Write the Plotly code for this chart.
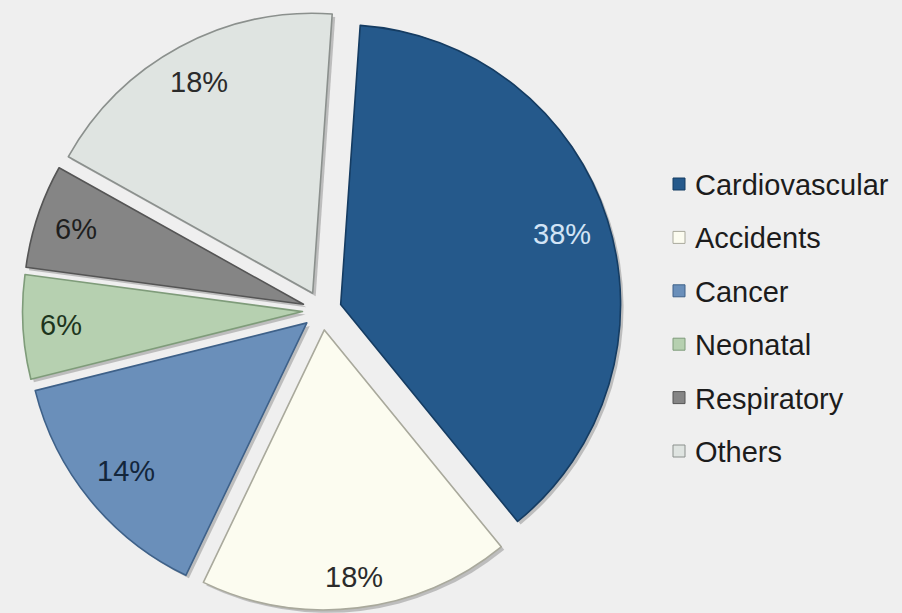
import math
import plotly.graph_objects as go

# Causes of death, share of total (%)
causes = ["Cardiovascular", "Accidents", "Cancer", "Neonatal", "Respiratory", "Others"]
shares = [38, 18, 14, 6, 6, 18]

slice_colors = ["#25598b", "#fcfcf0", "#6a8fba", "#b6d0b0", "#858585", "#dfe4e1"]
edge_colors = ["#153c62", "#a9a99c", "#3e6189", "#7f9c7a", "#555555", "#8b908d"]
label_colors = ["#d2e4f6", "#2b2b2b", "#13263b", "#1d351d", "#1e1e1e", "#2b2b2b"]

W, H = 902, 613
PULL = 0.07
ROTATION = 4
FONT = "Liberation Sans, Arial, sans-serif"
FS = 29

sh = 3
dom_x = [22 / W, 622 / W]
dom_y = [sh / H, (599 + sh) / H]

fig = go.Figure()

# soft drop shadow behind the slices
fig.add_trace(go.Pie(
    labels=causes, values=shares, sort=False, direction="clockwise",
    rotation=ROTATION, pull=PULL,
    domain=dict(x=[dom_x[0] + sh / W, dom_x[1] + sh / W],
                y=[dom_y[0] - sh / H, dom_y[1] - sh / H]),
    marker=dict(colors=["rgba(60,60,60,0.28)"] * len(shares), line=dict(width=0)),
    textinfo="none", hoverinfo="skip", showlegend=False,
))

fig.add_trace(go.Pie(
    labels=causes, values=shares, sort=False, direction="clockwise",
    rotation=ROTATION, pull=PULL,
    domain=dict(x=dom_x, y=dom_y),
    marker=dict(colors=slice_colors, line=dict(color=edge_colors, width=1.6)),
    textinfo="none", showlegend=False,
))

# pie geometry in pixels (same rule the pie trace uses)
box_w = (dom_x[1] - dom_x[0]) * W
box_h = (dom_y[1] - dom_y[0]) * H
R = min(box_w, box_h) / (2 + 2 * PULL)
cx = (dom_x[0] + dom_x[1]) / 2 * W
cy = (1 - (dom_y[0] + dom_y[1]) / 2) * H

char_w = {"0": .556, "1": .556, "2": .556, "3": .556, "4": .556, "5": .556,
          "6": .556, "7": .556, "8": .556, "9": .556, "%": .889}

annotations = []
total = sum(shares)
start = ROTATION
for name, v, col in zip(causes, shares, label_colors):
    span = 360 * v / total
    mid = math.radians(start + span / 2)
    start += span
    ux, uy = math.sin(mid), -math.cos(mid)
    txt = f"{v}%"
    hw = sum(char_w[c] for c in txt) * FS / 2
    hh = 0.36 * FS
    # label sits just inside the outer rim of its pulled-out slice
    rl = R - 17 - (hw * abs(ux) + hh * abs(uy))
    px = cx + PULL * R * ux + rl * ux
    py = cy + PULL * R * uy + rl * uy
    annotations.append(dict(
        x=px / W, y=1 - py / H, xref="paper", yref="paper",
        text=txt, showarrow=False, xanchor="center", yanchor="middle",
        font=dict(family=FONT, size=FS, color=col),
    ))

# legend drawn as swatches + labels
shapes = []
leg_x0, leg_y0, leg_dy = 673, 184, 53.4
sw = 12
for i, (name, fc, ec) in enumerate(zip(causes, slice_colors, edge_colors)):
    yc = leg_y0 + i * leg_dy
    shapes.append(dict(
        type="rect", xref="paper", yref="paper",
        x0=leg_x0 / W, x1=(leg_x0 + sw) / W,
        y0=1 - (yc + sw / 2) / H, y1=1 - (yc - sw / 2) / H,
        fillcolor=fc, line=dict(color=ec, width=1),
    ))
    annotations.append(dict(
        x=(leg_x0 + 20) / W, y=1 - (yc + 1) / H, xref="paper", yref="paper",
        text=name, showarrow=False, xanchor="left", yanchor="middle",
        font=dict(family=FONT, size=FS, color="#1c1c1c"),
    ))

fig.update_layout(
    width=W, height=H,
    margin=dict(l=0, r=0, t=0, b=0),
    paper_bgcolor="#efefef", plot_bgcolor="#efefef",
    annotations=annotations, shapes=shapes,
    showlegend=False,
)

fig.write_html("out.html")
